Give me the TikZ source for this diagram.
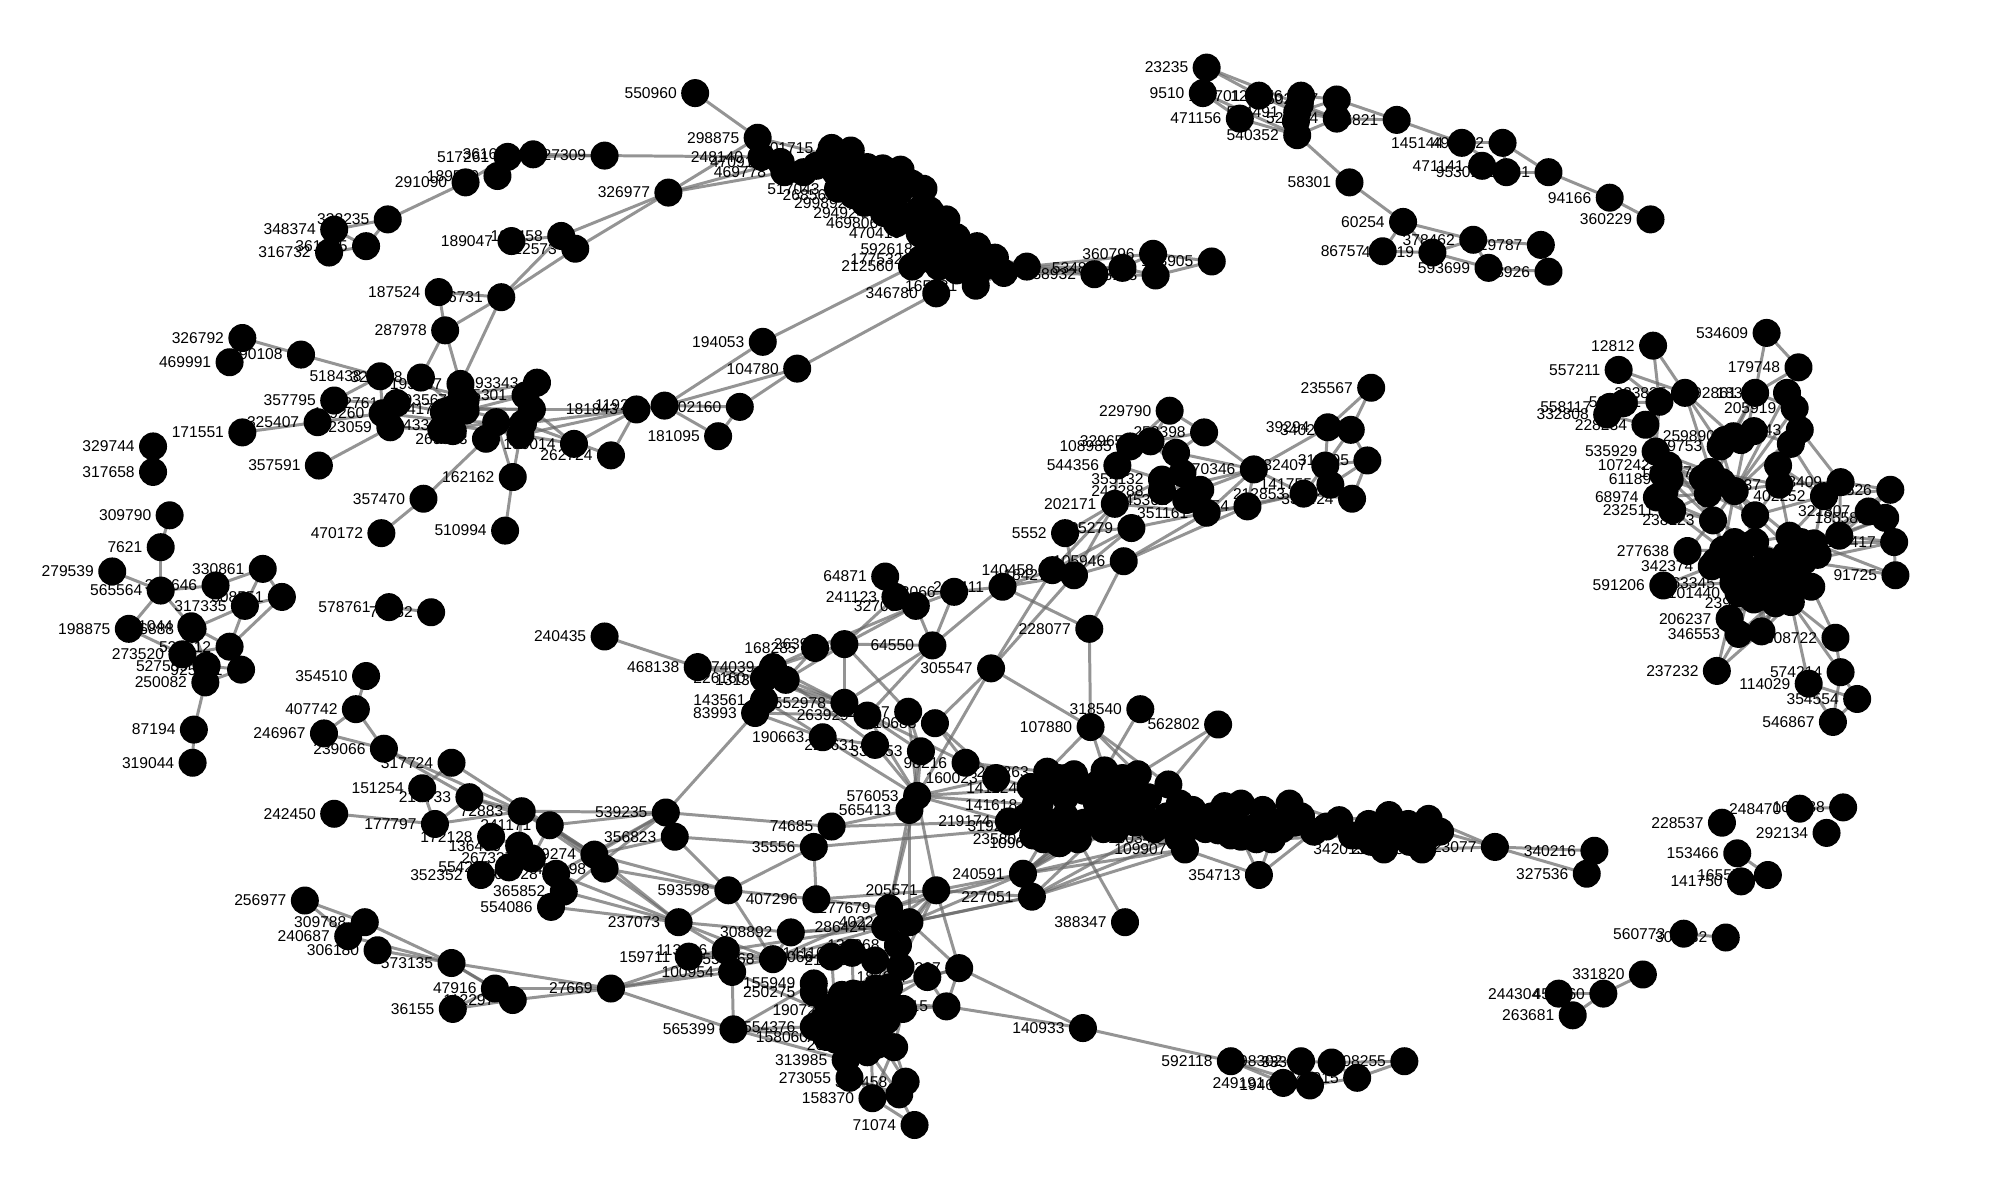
\documentclass[tikz,border=0pt]{standalone}
\usepackage{fontspec}
\setmainfont{Liberation Sans}
\usetikzlibrary{positioning}
\pgfdeclarelayer{edgelayer}
\pgfdeclarelayer{labellayer}
\pgfsetlayers{edgelayer,labellayer,main}

% Labelled vertices: x/y/id
\def\vertexlist{%
946/53/23235,943/73/9510,987/75/174701,1020/75/126476,1048/78/502157,1017/88/524491,972/93/471156,1048/93/520404,1017/106/540352,1095/94/366821,
1146/112/145144,1178/112/497822,1162/130/471141,1181/135/953014,1214/135/221131,1262/155/94166,1294/172/360229,1058/143/58301,1100/174/60254,1155/188/378462,
1208/192/229787,1123/198/475519,1084/197/86757,1167/210/593699,1214/213/148926,
545/73/550960,594/108/298875,597/123/248140,612/127/470914,615/135/469778,652/116/501715,657/148/517043,669/153/268561,678/159/299892,693/167/294924,703/175/469806,721/183/470419,730/195/592618,722/203/177532,715/209/212560,734/230/346780,765/224/165231,
858/215/538932,880/210/534871,904/199/360796,906/216/238113,950/205/183905,598/268/194053,625/289/104780,
474/122/427309,398/123/517261,418/121/361684,365/143/291090,390/138/189569,304/172/332235,262/180/348374,258/198/316732,287/193/361885,524/151/326977,
440/185/182458,451/195/412573,401/189/189047,393/233/346731,344/229/187524,349/259/287978,
190/265/326792,180/284/469991,236/278/490108,298/295/518438,330/296/329098,361/301/195267,262/314/357795,249/331/325407,190/339/171551,421/300/193343,412/310/385301,450/348/180014,479/357/262724,402/374/162162,396/416/510994,332/391/357470,299/418/470172,250/365/357591,381/344/269853,499/321/181843,521/318/119217,580/319/102160,563/342/181095,120/350/329744,120/370/317658,311/316/262761,300/324/119260,306/335/23059,351/333/250433,365/314/193567,354/321/192417,
133/404/309790,126/429/7621,88/448/279539,126/463/565564,169/459/323646,206/446/330861,221/468/308551,192/475/317335,150/491/191044,151/493/156888,101/493/198875,180/507/528612,143/513/273520,162/522/527559,189/525/925301,161/535/250082,152/572/87194,151/598/319044,305/476/578761,338/480/75352,287/530/354510,279/556/407742,254/575/246967,301/587/239066,
354/598/317724,331/618/151254,368/625/219733,262/638/242450,341/646/177797,409/636/72883,431/647/241171,385/656/172128,407/663/136466,417/673/267337,399/680/554298,377/686/352352,436/685/360928,442/699/365852,432/711/554086,466/670/119274,474/681/407198,
522/637/539235,529/656/356823,652/648/74685,638/664/35556,571/698/593598,640/705/407296,532/723/237073,620/731/308892,569/745/113166,540/750/159711,574/762/100954,606/752/553868,479/775/27669,354/755/573135,388/775/47916,402/784/112297,355/791/36155,239/706/256977,286/723/309788,273/734/240687,296/745/306180,575/807/565399,638/771/155949,638/778/250275,
652/750/100066,668/747/141107,686/753/210768,697/712/277679,694/727/286424,713/723/402247,734/698/205571,704/741/132368,727/766/187207,752/759/377207,742/789/226115,708/791/157345,661/792/190723,638/805/554376,648/813/158060,688/819/205481,663/831/313985,666/845/273055,710/848/344458,684/861/158370,717/882/71074,
474/499/240435,547/523/468138,606/523/574039,599/532/226160,616/533/131360,599/549/143561,592/559/83993,639/508/168285,662/505/263945,731/506/64550,694/452/64871,702/468/241123,718/475/32708,748/464/603066,786/460/241411,825/447/140458,842/451/184277,881/440/105946,854/493/228077,777/524/305547,662/551/552978,680/561/263929,712/558/712567,733/567/310688,645/578/190663,686/584/227631,722/589/332253,757/598/98216,781/610/160023,719/624/576053,713/635/565413,
855/570/107880,894/556/318540,955/568/562802,821/605/253263,866/604/220372,812/618/141124,812/631/141618,791/644/219174,814/648/319274,818/658/235804,831/661/109668,
1172/664/523077,1250/667/340216,1244/685/327536,987/686/354713,882/723/388347,929/666/109907,924/657/130341,802/685/240591,809/703/227051,849/806/140933,955/651/152437,1085/666/342013,1115/666/288155,
965/832/592118,1020/832/298302,1044/833/333391,1101/832/108255,1064/845/341915,1006/849/249191,1027/851/194632,
1288/764/331820,1257/779/454360,1222/779/244304,1233/796/263681,1320/732/560773,1353/735/302832,1350/645/228537,1411/634/248470,1445/633/163188,1432/653/292134,1362/669/153466,1365/691/141750,1386/686/165577,
1075/304/235567,917/322/229790,944/339/253398,902/346/329652,886/350/108985,876/365/544356,911/376/355132,911/385/243288,930/392/245361,946/402/351161,983/368/170346,978/397/422154,874/395/202171,887/414/105279,835/418/5552,1039/365/132407,1041/335/39294,1059/337/340298,1072/361/311095,1043/380/141755,1060/391/339424,1022/387/212853,
1296/271/12812,1385/261/534609,1410/288/179748,1269/290/557211,1321/308/223835,1376/308/392861,1401/308/183262,1407/320/205919,1301/315/593121,1262/319/558117,1260/325/332808,1290/333/228234,1298/354/535929,1308/365/107242,1309/376/61189,1299/390/68974,1311/400/232511,1343/408/238123,1323/432/277638,1342/444/342374,1304/459/591206,1356/485/206237,1363/497/346553,1346/526/237232,1439/500/308722,1443/527/574214,1418/536/114029,1456/548/354554,1437/566/546867,1486/451/91725,1485/425/286417,1482/384/235526,1443/378/148409,1430/389/402252,1465/401/321807,1478/406/185581,1411/337/245143,1359/342/259890,1349/350/159753,1395/380/224737,1341/370/135687,1359/457/163345,1363/465/101440,1392/473/239668}

% Vertices without a visible label: x/y/id
\def\blobAlist{%
667/118/a1,680/131/a2,692/132/a3,706/133/a4,724/148/a5,742/172/a6,750/186/a7,766/193/a8,780/202/a9,805/209/a10,787/214/a11,736/209/a12,640/130/a13,655/135/a14,670/140/a15,685/150/a16,700/160/a17,710/170/a18,690/140/a19,705/150/a20,720/165/a21,725/180/a22,735/190/a23,745/200/a24,730/200/a25,755/205/a26,650/122/a27,630/135/a28,715/144/a29,729/165/a30,750/212/a31,770/210/a32,665/130/a33,678/145/a34}
\def\blobBlist{%
348/323/c1,352/330/c2,346/337/c3,358/320/c4,362/310/c5,365/322/c6,355/338/c7,389/331/c8,417/321/c9,410/332/c10,408/341/c11,
669/779/d1,687/775/d2,697/774/d3,676/789/d4,690/787/d5,669/802/d6,683/805/d7,673/813/d8,655/797/d9,659/808/d10,701/821/d11,705/858/d12,706/758/d13,650/790/d14,645/800/d15,660/780/d16,680/780/d17,695/800/d18,670/795/d19,655/815/d20,690/815/d21,680/825/d22,665/815/d23,
842/607/e1,892/607/e2,916/615/e3,885/625/e4,860/630/e5,835/625/e6,815/630/e7,805/640/e8,825/645/e9,850/645/e10,875/640/e11,895/635/e12,915/640/e13,935/635/e14,950/640/e15,965/645/e16,980/650/e17,1000/645/e18,1020/640/e19,1030/652/e20,843/655/e21,865/650/e22,905/650/e23,930/650/e24,808/617/e25,830/661/e26,845/658/e27,973/630/e28,990/635/e29,1011/630/e30,1050/643/e31,1089/639/e32,1120/642/e33,1073/646/e34,1104/646/e35,1129/652/e36,997/658/e37,973/656/e38,1060/655/e39,1095/655/e40,
815/645/e41,835/640/e42,820/620/e43,830/610/e44,810/655/e45,850/620/e46,870/620/e47,880/610/e48,860/615/e49,875/650/e50,890/645/e51,900/625/e52,925/630/e53,945/650/e54,960/632/e55,965/655/e56,985/658/e57,1005/650/e58,1015/645/e59,1040/648/e60,1065/655/e61,1080/650/e62,1100/655/e63,1110/655/e64,1120/655/e65,1075/660/e66,1105/660/e67,
922/355/g1,927/371/g2,941/384/g3,1019/82/g4,1016/95/g5,
1273/316/f1,1381/495/f2,1404/348/f3,1394/365/f4,1375/338/f5,1339/387/f6,1360/385/f7,1376/404/f8,1376/425/f9,1403/420/f10,1422/426/f11,1442/420/f12,1414/440/f13,1420/460/f14,1404/472/f15,1351/431/f16,1364/439/f17,1382/447/f18,1401/449/f19,1372/462/f20,1385/460/f21,1398/465/f22,1380/468/f23,
1304/372/f24,1305/385/f25,1350/378/f26,1345/378/f27,1335/375/f28,1365/345/f29,1352/345/f30,1345/440/f31,1355/445/f32,1370/450/f33,1385/440/f34,1395/455/f35,1410/455/f36,1375/470/f37,1365/452/f38,1390/448/f39,1400/435/f40,1360/425/f41,1412/425/f42,1425/435/f43}

% Edges
\def\edgelist{%
23235/520404,23235/174701,9510/471156,9510/540352,174701/524491,174701/520404,524491/502157,126476/502157,126476/524491,502157/366821,366821/145144,520404/366821,471156/540352,540352/520404,524491/520404,540352/58301,58301/60254,60254/378462,60254/86757,60254/475519,378462/475519,475519/593699,86757/475519,378462/229787,593699/148926,378462/593699,145144/497822,145144/953014,497822/221131,471141/953014,221131/94166,94166/360229,953014/221131,497822/953014,
550960/298875,427309/248140,326977/298875,326977/469778,326977/470914,298875/a27,248140/a13,470914/a28,469778/a14,501715/a1,a1/a2,a2/a3,a3/a4,a4/a5,a5/a6,a6/a7,a7/a8,a8/a9,a9/a10,a10/538932,a10/534871,a11/538932,a11/534871,a10/360796,534871/360796,534871/238113,538932/238113,360796/183905,238113/183905,a9/a11,a8/a11,165231/a11,346780/a12,212560/a12,194053/212560,104780/346780,
517261/291090,517261/427309,361684/427309,189569/517261,291090/332235,332235/348374,332235/361885,348374/361885,316732/361885,326977/182458,326977/412573,189047/182458,182458/346731,412573/346731,187524/346731,187524/287978,287978/346731,346731/195267,287978/329098,287978/195267,
326792/469991,326792/490108,490108/518438,518438/357795,518438/119260,325407/171551,325407/119260,357795/262761,357591/23059,329098/c4,518438/c5,195267/c5,193343/c5,385301/c6,c9/181843,c10/181843,c11/181843,180014/181843,262724/181843,180014/c9,262724/c10,180014/c11,c11/162162,c8/162162,162162/510994,269853/357470,357470/470172,181843/119217,119217/194053,119217/104780,119217/181095,119217/102160,102160/104780,181095/102160,c4/c9,c6/c10,c3/c8,c2/c10,23059/c3,262761/c1,119260/c2,250433/c11,192417/c9,193567/385301,193343/c9,
309790/7621,7621/565564,279539/565564,565564/198875,565564/323646,323646/330861,330861/308551,330861/317335,317335/308551,565564/191044,198875/273520,273520/528612,191044/156888,317335/156888,528612/925301,527559/925301,250082/925301,250082/527559,250082/87194,87194/319044,578761/75352,354510/407742,407742/246967,407742/239066,246967/239066,191044/528612,317335/528612,308551/528612,156888/527559,273520/527559,
239066/72883,239066/219733,317724/151254,317724/119274,151254/177797,242450/177797,177797/219733,177797/72883,219733/72883,539235/72883,539235/241171,539235/119274,539235/365852,539235/360928,72883/119274,241171/119274,241171/407198,72883/407198,172128/136466,72883/136466,352352/267337,352352/554298,241171/267337,136466/360928,219733/241171,360928/237073,365852/237073,554086/237073,407198/237073,119274/237073,119274/593598,407198/593598,356823/119274,554086/365852,360928/365852,
240435/468138,468138/574039,468138/226160,64871/32708,64871/241123,241123/603066,32708/603066,603066/241411,241411/140458,241411/184277,241411/228077,105946/228077,228077/107880,305547/140458,305547/184277,305547/107880,305547/310688,305547/576053,263945/64550,64550/603066,64550/32708,64550/241411,64550/552978,64550/263929,32708/263945,241123/263945,32708/168285,263945/552978,263945/712567,168285/574039,168285/131360,263945/574039,263945/131360,574039/263929,131360/552978,226160/552978,226160/263929,143561/552978,83993/263929,83993/190663,143561/190663,83993/539235,131360/227631,190663/227631,227631/576053,190663/576053,263929/332253,263929/576053,712567/332253,712567/576053,310688/98216,310688/160023,332253/576053,332253/565413,98216/253263,552978/98216,576053/160023,576053/141124,576053/141618,576053/219174,565413/74685,74685/219174,539235/74685,356823/35556,35556/319274,35556/593598,356823/593598,35556/407296,593598/407296,407296/205571,593598/237073,539235/356823,
576053/277679,565413/286424,576053/205571,565413/402247,205571/240591,205571/277679,205571/286424,205571/402247,402247/240591,402247/227051,240591/235804,240591/109668,240591/130341,240591/109907,227051/109907,227051/130341,227051/205571,240591/e26,240591/e27,277679/240591,286424/227051,160023/e25,141124/e7,141618/e8,219174/e8,319274/e9,235804/e21,109668/e27,e27/130341,e22/130341,240591/e21,240591/e22,227051/e22,227051/e23,
354713/e38,354713/e37,354713/109907,354713/e20,388347/e27,107880/253263,107880/e2,107880/e3,107880/220372,318540/220372,562802/e2,562802/e3,523077/340216,523077/327536,523077/e36,523077/e33,523077/288155,e14/e28,e28/e29,e29/e30,e30/e31,e31/e32,e32/e33,e33/e36,e16/e19,e19/e20,e17/e37,e37/e39,e39/342013,342013/e40,e40/288155,e13/e28,e3/e14,e4/e5,e5/e6,e6/e7,e11/e12,e12/e13,e23/e24,
573135/27669,573135/47916,573135/112297,573135/309788,573135/240687,573135/306180,256977/309788,256977/240687,47916/27669,112297/27669,36155/47916,36155/112297,27669/100954,27669/113166,27669/565399,27669/553868,565399/100954,565399/155949,565399/554376,565399/158060,565399/313985,100954/113166,113166/553868,159711/113166,159711/553868,237073/308892,237073/553868,237073/113166,593598/553868,308892/553868,308892/286424,308892/402247,407296/277679,553868/286424,553868/277679,113166/402247,
377207/140933,226115/140933,205571/377207,402247/377207,377207/226115,187207/226115,187207/377207,140933/592118,592118/298302,592118/249191,592118/194632,298302/333391,333391/108255,341915/108255,194632/341915,249191/194632,298302/249191,333391/341915,
205571/132368,277679/132368,132368/d13,d13/187207,d13/d3,100066/d9,141107/d1,210768/d2,553868/100066,553868/141107,155949/d9,250275/d6,100954/d9,d3/d11,d2/d11,d5/d11,d11/344458,d8/313985,d10/313985,d7/273055,d8/273055,d11/158370,d7/158370,d7/344458,344458/d12,d12/71074,158370/71074,d8/d12,273055/d12,313985/158370,d4/d11,157345/d11,226115/157345,190723/d6,205571/d3,402247/d2,377207/d3,226115/d5,187207/d5,277679/d13,132368/d1,
454360/331820,454360/244304,454360/263681,560773/302832,248470/163188,153466/165577,141750/165577,
235567/39294,235567/340298,39294/340298,340298/311095,340298/132407,132407/311095,311095/141755,311095/339424,141755/339424,132407/141755,132407/212853,39294/132407,39294/170346,170346/253398,229790/253398,229790/329652,229790/108985,253398/g1,253398/329652,170346/g1,170346/g3,170346/351161,170346/243288,212853/351161,212853/170346,212853/339424,212853/422154,422154/351161,422154/170346,351161/105279,351161/202171,202171/5552,202171/140458,202171/184277,105279/5552,105279/140458,105946/351161,105946/422154,105946/184277,5552/184277,105279/184277,544356/108985,544356/355132,g1/g2,329652/g2,544356/202171,355132/202171,243288/202171,
12812/593121,12812/223835,557211/223835,557211/593121,534609/179748,534609/392861,179748/392861,179748/183262,593121/f1,f1/558117,558117/332808,332808/228234,228234/535929,593121/228234,223835/259890,223835/159753,593121/535929,392861/259890,392861/205919,183262/205919,205919/245143,245143/f3,f3/f4,f4/224737,224737/148409,f3/402252,245143/148409,f4/402252,235526/148409,235526/402252,235526/321807,321807/185581,185581/286417,286417/91725,286417/f12,91725/f11,286417/f13,321807/f12,185581/f11,148409/f10,402252/f8,402252/f11,f10/f9,f12/f11,f11/f13,f13/f14,f14/f15,f15/308722,f14/308722,f15/574214,f15/114029,308722/574214,574214/354554,114029/354554,114029/546867,354554/546867,574214/546867,
535929/135687,107242/135687,61189/f6,68974/f6,232511/238123,232511/f6,238123/f7,135687/224737,f6/224737,f7/f8,f7/f10,159753/135687,259890/f5,f5/f3,238123/277638,277638/342374,342374/591206,591206/163345,277638/f16,238123/f16,f16/f17,f17/f18,f18/f19,f19/f13,f9/f17,f8/f18,f9/f19,163345/f20,101440/f20,f20/f21,f21/f22,f22/f14,206237/163345,206237/101440,346553/101440,f2/f23,f2/239668,206237/237232,346553/237232,f2/237232,239668/f15,f23/f15,f10/f19,f6/f16,f7/f16,107242/232511,61189/238123,
223835/135687,392861/135687,392861/f7,183262/f7,205919/f7,245143/f7,245143/224737,259890/f6,159753/f6,159753/f7,228234/238123,535929/f6,107242/f7,61189/f7,68974/238123,232511/f16,238123/f9,f6/f8,f7/f9,224737/f10,224737/f8,402252/f12,148409/f12,235526/f11,321807/f11,185581/f12,f8/f13,f9/f13,f10/f13,f16/163345,f17/f20,f18/f21,f19/f22,342374/f20,91725/f13,286417/f11,f13/f15,f14/239668,f15/f2,f15/346553,f21/206237,f22/346553,f23/206237,f20/346553,f21/f2,f22/f2}

\tikzset{
    vertex/.style={circle, fill=black, inner sep=0pt, minimum size=0.28cm},
    vlabel/.style={font=\fontsize{4.45}{5}\selectfont, inner sep=0pt},
    link/.style={line width=0.85pt, black!60, opacity=0.7},
}

\begin{document}
\begin{tikzpicture}[x=0.012755cm, y=-0.012755cm]
\useasboundingbox (0,0) rectangle (1568,940.8);

% Vertices
\foreach \px/\py/\vid in \vertexlist {
    \node[vertex] (v\vid) at (\px,\py) {};
}
\foreach \px/\py/\vid in \blobAlist {
    \node[vertex] (v\vid) at (\px,\py) {};
}
\foreach \px/\py/\vid in \blobBlist {
    \node[vertex] (v\vid) at (\px,\py) {};
}

% Labels, under the vertices
\begin{pgfonlayer}{labellayer}
\foreach \px/\py/\vid in \vertexlist {
    \node[vlabel, left=0.03cm of v\vid] {\vid};
}
\end{pgfonlayer}

% Edges
\begin{pgfonlayer}{edgelayer}
\foreach \va/\vb in \edgelist {
    \draw[link] (v\va.center) -- (v\vb.center);
}
\end{pgfonlayer}

\end{tikzpicture}
\end{document}
